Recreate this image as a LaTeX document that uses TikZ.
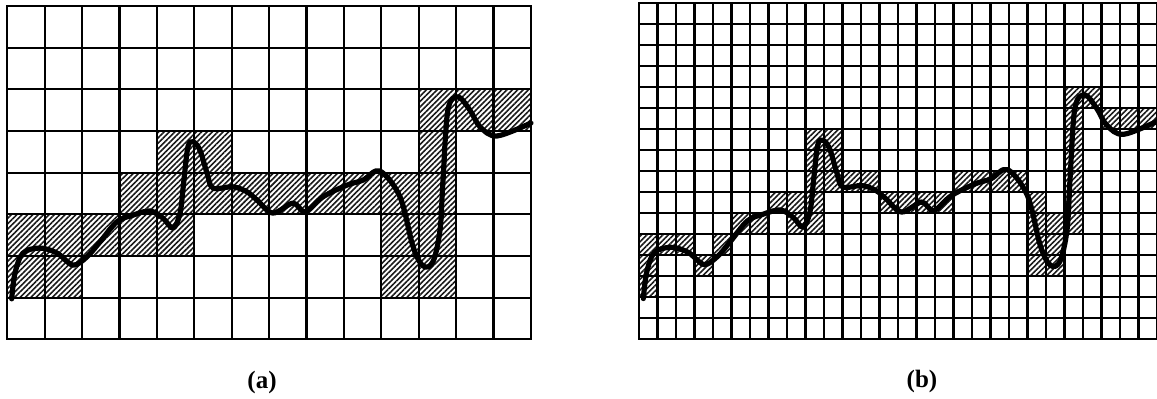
\documentclass[tikz,border=0pt]{standalone}
\usepackage{fontspec}
\setmainfont{Liberation Serif}
\usetikzlibrary{patterns.meta}

\tikzset{
  gridline/.style={line width=1.1pt, line cap=rect},
  hatched/.style={pattern={Lines[angle=45,distance=1.9pt,line width=0.8pt]}, pattern color=black!90},
  signal/.style={line width=2.6pt, line cap=round, line join=round},
  caption/.style={font=\fontsize{12.5}{14}\selectfont\bfseries}
}
\newcommand\signalcurve{%
  \draw[signal] plot[smooth, tension=0.55] coordinates {
    (0.118,7.03) (0.206,6.41) (0.42,5.93) (0.874,5.81) (1.33,5.93) (1.757,6.22)
    (2.13,6.02) (2.48,5.66) (2.93,5.18) (3.36,5.02) (3.815,4.92) (4.16,5.09)
    (4.43,5.33) (4.62,4.97) (4.72,4.2) (4.83,3.38) (4.97,3.26) (5.15,3.46)
    (5.34,4.01) (5.50,4.37) (6.03,4.34) (6.41,4.46) (6.68,4.66) (7.10,4.97)
    (7.64,4.73) (7.96,4.94) (8.44,4.58) (9.08,4.30) (9.51,4.18) (9.96,3.96)
    (10.5,4.58) (10.85,5.78) (11.12,6.24) (11.38,6.14) (11.57,5.38) (11.65,4.18)
    (11.78,2.5) (12.05,2.18) (12.37,2.5) (12.64,2.9) (13.09,3.12) (14.0,2.81)};}

\begin{document}
\begin{tikzpicture}[x=0.5pt, y=-0.5pt]
\useasboundingbox (0,0) rectangle (1157,398);

% (a) coarse cells
\begin{scope}[shift={(3.65pt,-3pt)}, x=18.7pt, y=-20.83pt]
  \foreach \c/\r in {11/2,12/2,13/2, 4/3,5/3,11/3,
                     3/4,4/4,5/4,6/4,7/4,8/4,9/4,10/4,11/4,
                     0/5,1/5,2/5,3/5,4/5,10/5,11/5,
                     0/6,1/6,10/6,11/6}
    \fill[hatched] (\c,\r) rectangle ++(1,1);
  \foreach \i in {0,...,14} \draw[gridline] (\i,0) -- (\i,8);
  \foreach \j in {0,...,8} \draw[gridline] (0,\j) -- (14,\j);
  \signalcurve
\end{scope}

% (b) fine cells
\begin{scope}[shift={(319.5pt,-1.65pt)}, x=18.5pt, y=-21pt]
  \foreach \c/\r in {23/4,24/4, 23/5,25/5,26/5,27/5,
                     9/6,10/6,23/6, 9/7,10/7,23/7,
                     9/8,10/8,11/8,12/8,17/8,18/8,19/8,20/8,23/8,
                     7/9,8/9,9/9,13/9,14/9,15/9,16/9,21/9,23/9,
                     5/10,6/10,8/10,9/10,21/10,22/10,23/10,
                     0/11,1/11,2/11,4/11,21/11,22/11,
                     0/12,3/12,21/12,22/12, 0/13}
    \fill[hatched] ({\c/2},{\r/2}) rectangle ++(0.5,0.5);
  \foreach \i in {0,...,28} \draw[gridline] ({\i/2},0) -- ({\i/2},8);
  \foreach \j in {0,...,16} \draw[gridline] (0,{\j/2}) -- (14,{\j/2});
  \signalcurve
\end{scope}

\node[caption] (capa) at (262,382) {(a)};
\node[caption] (capb) at (922,381) {(b)};
\end{tikzpicture}
\end{document}
